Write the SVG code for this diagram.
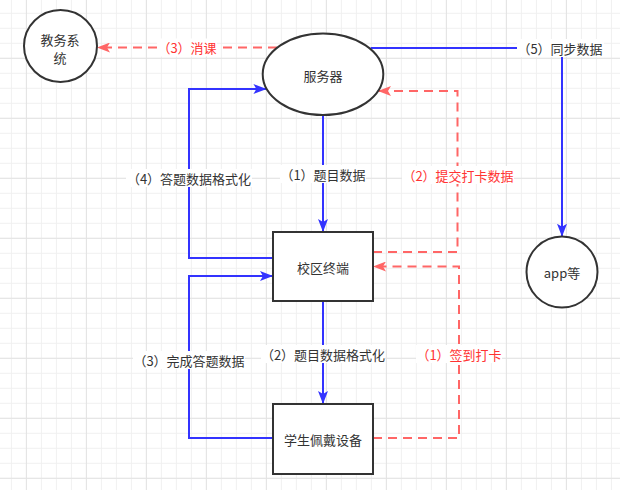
<svg xmlns="http://www.w3.org/2000/svg" width="620" height="490" viewBox="0 0 620 490">
<style>
.node{fill:#ffffff;stroke:#333333;stroke-width:2}
.ntxt{font-family:"Noto Sans CJK SC","Liberation Sans",sans-serif;font-size:13px;fill:#333333;text-anchor:middle;dominant-baseline:central}
.lbl{font-family:"Noto Sans CJK SC","Liberation Sans",sans-serif;font-size:13px;fill:#333333;text-anchor:middle;dominant-baseline:central}
.lblred{font-family:"Noto Sans CJK SC","Liberation Sans",sans-serif;font-size:13px;fill:#ff3333;text-anchor:middle;dominant-baseline:central}
.lblbg{fill:#ffffff}
.eblue{fill:none;stroke:#3333ff;stroke-width:2}
.ered{fill:none;stroke:#ff6666;stroke-width:2;stroke-dasharray:9 6}
</style>
<defs>
<pattern id="minor" width="15" height="15" patternUnits="userSpaceOnUse" x="10.9" y="12.8">
<path d="M0 0.5 H15 M0.5 0 V15" fill="none" stroke="#f0f0f0" stroke-width="1"/>
</pattern>
<pattern id="major" width="60" height="60" patternUnits="userSpaceOnUse" x="25.9" y="57.8">
<path d="M0 0.5 H60 M0.5 0 V60" fill="none" stroke="#e3e3e3" stroke-width="1"/>
</pattern>
<marker id="ab" markerUnits="userSpaceOnUse" viewBox="0 0 13 10" refX="13" refY="5" markerWidth="13" markerHeight="10" orient="auto">
<path d="M0 0 L13 5 L0 10 L3 5 Z" fill="#3333ff"/>
</marker>
<marker id="ar" markerUnits="userSpaceOnUse" viewBox="0 0 13 10" refX="13" refY="5" markerWidth="13" markerHeight="10" orient="auto">
<path d="M0 0 L13 5 L0 10 L3 5 Z" fill="#ff6666"/>
</marker>
</defs>
<rect x="0" y="0" width="620" height="490" fill="#ffffff"/>
<rect x="0" y="0" width="620" height="490" fill="url(#minor)"/>
<rect x="0" y="0" width="620" height="490" fill="url(#major)"/>

<g id="connectors">
<path class="ered" d="M277 47.5 H97" marker-end="url(#ar)"/>
<path class="eblue" d="M370.7 48 H562 V236.7" marker-end="url(#ab)"/>
<path class="eblue" d="M323 115 V232" marker-end="url(#ab)"/>
<path class="eblue" d="M273 258 H189 V89 H266.4" marker-end="url(#ab)"/>
<path class="ered" d="M373 252 H457.5 V91 H378" marker-end="url(#ar)"/>
<path class="eblue" d="M323 301 V404" marker-end="url(#ab)"/>
<path class="eblue" d="M273 438 H189 V276 H273" marker-end="url(#ab)"/>
<path class="ered" d="M373 438 H459 V266.5 H373" marker-end="url(#ar)"/>

<g id="labels">
<rect class="lblbg" x="157" y="38.5" width="60" height="18"/>
<text class="lblred" x="187" y="47.5">（3）消课</text>
<rect class="lblbg" x="517" y="39" width="87" height="18"/>
<text class="lbl" x="560" y="48">（5）同步数据</text>
<rect class="lblbg" x="280" y="165" width="86" height="18"/>
<text class="lbl" x="323" y="174">（1）题目数据</text>
<rect class="lblbg" x="126" y="169" width="126" height="18"/>
<text class="lbl" x="189" y="178">（4）答题数据格式化</text>
<rect class="lblbg" x="402" y="166" width="112" height="18"/>
<text class="lblred" x="458" y="175">（2）提交打卡数据</text>
<rect class="lblbg" x="133" y="351" width="112" height="18"/>
<text class="lbl" x="189" y="360">（3）完成答题数据</text>
<rect class="lblbg" x="261" y="345" width="124" height="18"/>
<text class="lbl" x="323" y="354">（2）题目数据格式化</text>
<rect class="lblbg" x="416" y="345" width="86" height="18"/>
<text class="lblred" x="459" y="354">（1）签到打卡</text>
</g>
</g>

<g id="node-jiaowu">
<ellipse class="node" cx="60.5" cy="46" rx="36.5" ry="36"/>
<text class="ntxt" x="60" y="39">教务系</text>
<text class="ntxt" x="60" y="57">统</text>
</g>
<g id="node-server">
<ellipse class="node" cx="323" cy="74.2" rx="60.3" ry="40.8"/>
<text class="ntxt" x="323" y="75">服务器</text>
</g>
<g id="node-terminal">
<rect class="node" x="273" y="232" width="100" height="69"/>
<text class="ntxt" x="323" y="267">校区终端</text>
</g>
<g id="node-device">
<rect class="node" x="273" y="404" width="100" height="70"/>
<text class="ntxt" x="323" y="439">学生佩戴设备</text>
</g>
<g id="node-app">
<circle class="node" cx="562" cy="272" r="35.5"/>
<text class="ntxt" x="562" y="272.5">app等</text>
</g>
</svg>
